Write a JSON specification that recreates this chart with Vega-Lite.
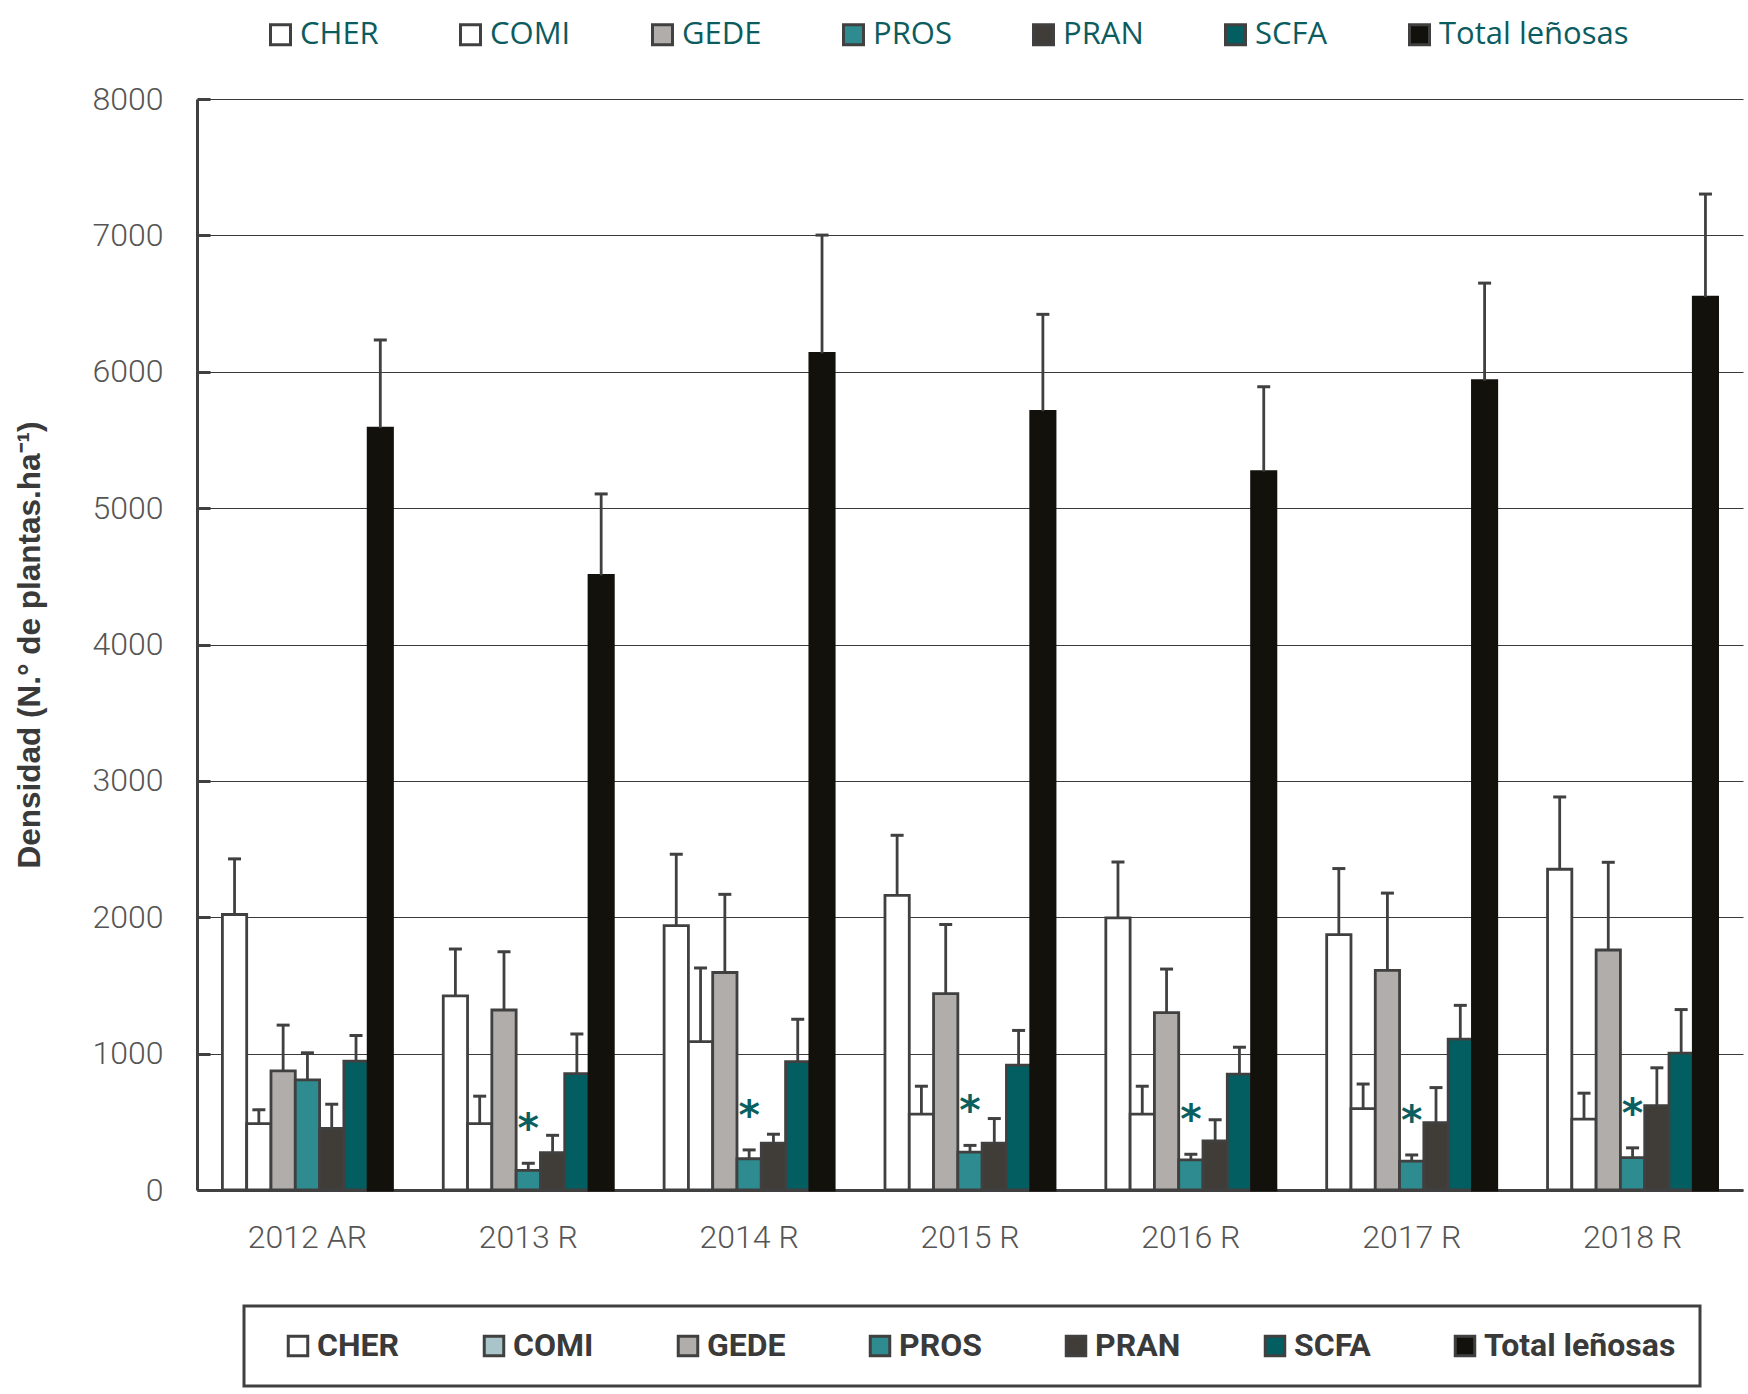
{
  "$schema": "https://vega.github.io/schema/vega-lite/v6.json",
  "width": 1546,
  "height": 1091,
  "autosize": {"type": "none"},
  "padding": {"left": 197, "top": 99, "right": 5, "bottom": 204},
  "background": "white",
  "config": {"view": {"stroke": null}},
  "data": {"values": [
    {"year": "2012 AR", "series": "CHER", "value": 2020, "err": 2428, "sig": false},
    {"year": "2012 AR", "series": "COMI", "value": 486, "err": 588, "sig": false},
    {"year": "2012 AR", "series": "GEDE", "value": 874, "err": 1209, "sig": false},
    {"year": "2012 AR", "series": "PROS", "value": 808, "err": 1006, "sig": false},
    {"year": "2012 AR", "series": "PRAN", "value": 452, "err": 629, "sig": false},
    {"year": "2012 AR", "series": "SCFA", "value": 945, "err": 1133, "sig": false},
    {"year": "2012 AR", "series": "Total leñosas", "value": 5587, "err": 6233, "sig": false},
    {"year": "2013 R", "series": "CHER", "value": 1424, "err": 1767, "sig": false},
    {"year": "2013 R", "series": "COMI", "value": 486, "err": 688, "sig": false},
    {"year": "2013 R", "series": "GEDE", "value": 1320, "err": 1747, "sig": false},
    {"year": "2013 R", "series": "PROS", "value": 144, "err": 196, "sig": true},
    {"year": "2013 R", "series": "PRAN", "value": 273, "err": 401, "sig": false},
    {"year": "2013 R", "series": "SCFA", "value": 854, "err": 1144, "sig": false},
    {"year": "2013 R", "series": "Total leñosas", "value": 4507, "err": 5104, "sig": false},
    {"year": "2014 R", "series": "CHER", "value": 1939, "err": 2462, "sig": false},
    {"year": "2014 R", "series": "COMI", "value": 1088, "err": 1628, "sig": false},
    {"year": "2014 R", "series": "GEDE", "value": 1595, "err": 2168, "sig": false},
    {"year": "2014 R", "series": "PROS", "value": 229, "err": 294, "sig": true},
    {"year": "2014 R", "series": "PRAN", "value": 344, "err": 409, "sig": false},
    {"year": "2014 R", "series": "SCFA", "value": 941, "err": 1252, "sig": false},
    {"year": "2014 R", "series": "Total leñosas", "value": 6135, "err": 7002, "sig": false},
    {"year": "2015 R", "series": "CHER", "value": 2160, "err": 2601, "sig": false},
    {"year": "2015 R", "series": "COMI", "value": 556, "err": 761, "sig": false},
    {"year": "2015 R", "series": "GEDE", "value": 1440, "err": 1947, "sig": false},
    {"year": "2015 R", "series": "PROS", "value": 278, "err": 327, "sig": true},
    {"year": "2015 R", "series": "PRAN", "value": 344, "err": 524, "sig": false},
    {"year": "2015 R", "series": "SCFA", "value": 916, "err": 1170, "sig": false},
    {"year": "2015 R", "series": "Total leñosas", "value": 5710, "err": 6421, "sig": false},
    {"year": "2016 R", "series": "CHER", "value": 1996, "err": 2405, "sig": false},
    {"year": "2016 R", "series": "COMI", "value": 556, "err": 761, "sig": false},
    {"year": "2016 R", "series": "GEDE", "value": 1300, "err": 1620, "sig": false},
    {"year": "2016 R", "series": "PROS", "value": 221, "err": 262, "sig": true},
    {"year": "2016 R", "series": "PRAN", "value": 360, "err": 515, "sig": false},
    {"year": "2016 R", "series": "SCFA", "value": 850, "err": 1047, "sig": false},
    {"year": "2016 R", "series": "Total leñosas", "value": 5268, "err": 5890, "sig": false},
    {"year": "2017 R", "series": "CHER", "value": 1873, "err": 2357, "sig": false},
    {"year": "2017 R", "series": "COMI", "value": 597, "err": 777, "sig": false},
    {"year": "2017 R", "series": "GEDE", "value": 1611, "err": 2177, "sig": false},
    {"year": "2017 R", "series": "PROS", "value": 211, "err": 257, "sig": true},
    {"year": "2017 R", "series": "PRAN", "value": 494, "err": 751, "sig": false},
    {"year": "2017 R", "series": "SCFA", "value": 1107, "err": 1354, "sig": false},
    {"year": "2017 R", "series": "Total leñosas", "value": 5934, "err": 6650, "sig": false},
    {"year": "2018 R", "series": "CHER", "value": 2352, "err": 2882, "sig": false},
    {"year": "2018 R", "series": "COMI", "value": 520, "err": 710, "sig": false},
    {"year": "2018 R", "series": "GEDE", "value": 1760, "err": 2403, "sig": false},
    {"year": "2018 R", "series": "PROS", "value": 237, "err": 309, "sig": true},
    {"year": "2018 R", "series": "PRAN", "value": 618, "err": 896, "sig": false},
    {"year": "2018 R", "series": "SCFA", "value": 1004, "err": 1323, "sig": false},
    {"year": "2018 R", "series": "Total leñosas", "value": 6547, "err": 7303, "sig": false}
  ]},
  "encoding": {
    "x": {
      "field": "year", "type": "nominal", "sort": null,
      "scale": {"paddingInner": 0.23, "paddingOuter": 0.115},
      "axis": {
        "title": null, "labelAngle": 0, "ticks": false,
        "labelFont": "Roboto", "labelFontWeight": 300, "labelFontSize": 32,
        "labelColor": "#555555", "labelPadding": 32,
        "domainColor": "#404040", "domainWidth": 3
      }
    },
    "xOffset": {
      "field": "series", "type": "nominal",
      "sort": ["CHER", "COMI", "GEDE", "PROS", "PRAN", "SCFA", "Total leñosas"],
      "scale": {"paddingInner": 0, "paddingOuter": 0}
    }
  },
  "layer": [
    {
      "mark": {"type": "bar", "strokeWidth": 2.8},
      "encoding": {
        "y": {
          "field": "value", "type": "quantitative",
          "scale": {"domain": [0, 8000], "nice": false},
          "axis": {
            "title": "Densidad (N.° de plantas.ha⁻¹)",
            "values": [0, 1000, 2000, 3000, 4000, 5000, 6000, 7000, 8000],
            "format": "d",
            "labelFont": "Roboto", "labelFontWeight": 300, "labelFontSize": 32,
            "labelColor": "#555555", "labelPadding": 47,
            "tickSize": -13, "tickWidth": 3, "tickColor": "#404040",
            "domainColor": "#404040", "domainWidth": 3,
            "gridColor": "#3a3a3a", "gridWidth": 1.2,
            "titleFont": "Liberation Sans", "titleFontWeight": "bold", "titleFontSize": 31.5,
            "titleColor": "#3a3a3a", "titlePadding": 46
          }
        },
        "fill": {
          "field": "series", "type": "nominal",
          "scale": {
            "domain": ["CHER", "COMI", "GEDE", "PROS", "PRAN", "SCFA", "Total leñosas"],
            "range": ["#ffffff", "#ffffff", "#b0adab", "#2e8b8f", "#403c38", "#035e61", "#12110c"]
          },
          "legend": {
            "title": null, "orient": "none", "legendX": 68, "legendY": -80,
            "direction": "horizontal", "symbolType": "square", "symbolSize": 400,
            "symbolStrokeColor": "#404040", "symbolStrokeWidth": 3, "symbolOpacity": 1,
            "labelFont": "Open Sans", "labelFontSize": 31, "labelColor": "#0b5c5e",
            "labelOffset": 4, "labelLimit": 400, "columnPadding": 75, "padding": 0
          }
        },
        "stroke": {
          "condition": {"test": "datum.series === 'Total leñosas'", "value": "#12110c"},
          "value": "#404040"
        }
      }
    },
    {
      "mark": {"type": "rule", "stroke": "#404040", "strokeWidth": 2.8},
      "encoding": {
        "y": {"field": "value", "type": "quantitative"},
        "y2": {"field": "err"}
      }
    },
    {
      "mark": {"type": "tick", "color": "#404040", "size": 13, "thickness": 3, "orient": "horizontal", "opacity": 1},
      "encoding": {
        "y": {"field": "err", "type": "quantitative"}
      }
    },
    {
      "transform": [{"filter": "datum.sig"}],
      "mark": {"type": "text", "text": "*", "font": "DejaVu Sans", "fontWeight": "bold", "fontSize": 41, "color": "#0b5f60", "baseline": "alphabetic", "dy": -21},
      "encoding": {
        "y": {"field": "err", "type": "quantitative"}
      }
    },
    {
      "mark": {"type": "point", "shape": "square", "filled": true, "size": 0, "opacity": 0},
      "encoding": {
        "y": {"field": "value", "type": "quantitative"},
        "fill": {
          "field": "series", "type": "nominal",
          "scale": {
            "domain": ["CHER", "COMI", "GEDE", "PROS", "PRAN", "SCFA", "Total leñosas"],
            "range": ["#ffffff", "#a9c5c9", "#b0adab", "#2e8b8f", "#403c38", "#035e61", "#12110c"]
          },
          "legend": {
            "title": null, "orient": "none", "legendX": 47, "legendY": 1207,
            "direction": "horizontal", "symbolType": "square", "symbolSize": 380,
            "symbolStrokeColor": "#404040", "symbolStrokeWidth": 3, "symbolOpacity": 1,
            "symbolOffset": 14,
            "labelFont": "Roboto", "labelFontWeight": "bold", "labelFontSize": 32,
            "labelColor": "#3a3a3a", "labelOffset": 3, "labelLimit": 400, "columnPadding": 64, "padding": 24,
            "strokeColor": "#404040",
            "encode": {"legend": {"update": {"strokeWidth": {"value": 3}}}}
          }
        }
      }
    }
  ],
  "resolve": {"scale": {"fill": "independent"}}
}
